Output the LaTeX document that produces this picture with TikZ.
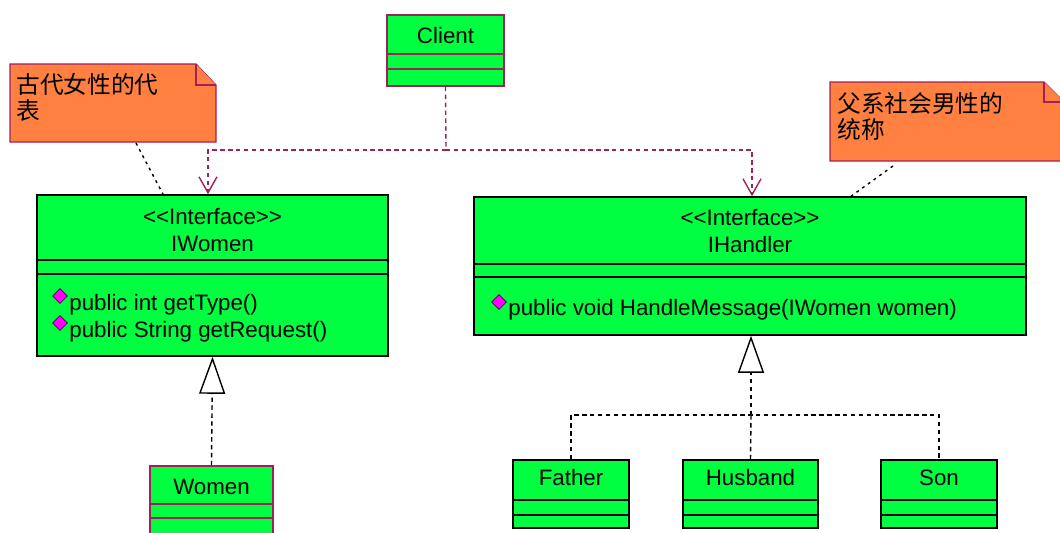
\documentclass[tikz,border=0pt]{standalone}
\usepackage{fontspec}
\setmainfont{Liberation Sans}
\newfontfamily\cjk{Noto Sans CJK SC}
\usetikzlibrary{arrows.meta,positioning,fit}
\definecolor{umlgreen}{RGB}{0,255,64}
\definecolor{umlnote}{RGB}{255,128,64}
\definecolor{umlred}{RGB}{160,32,90}
\definecolor{gemfill}{RGB}{255,0,255}

\begin{document}
\begin{tikzpicture}[
  x=0.02cm, y=-0.02cm,
  every node/.style={font=\fontsize{12.7}{15.3}\selectfont},
  cls/.style={draw=black, fill=umlgreen, line width=0.9pt, inner sep=0pt},
  clsred/.style={cls, draw=umlred},
  sep/.style={line width=0.9pt},
  note/.style={fill=umlnote, draw=umlred, line width=0.7pt},
  notetext/.style={font=\cjk\fontsize{13.5}{14.8}\selectfont, align=left,
    anchor=west, inner sep=0pt},
  dep/.style={umlred, line width=0.8pt, dash pattern=on 2.5pt off 2pt},
  real/.style={black, line width=0.8pt, dash pattern=on 2.5pt off 2pt},
  link/.style={black, line width=0.8pt, dash pattern=on 1.6pt off 2.4pt},
  open/.style={-{Straight Barb[length=3.2mm, width=3.6mm]}},
  hollow/.style={-{Triangle[open, length=7.4mm, width=5.2mm, fill=white]}},
  meth/.style={anchor=west, inner sep=0pt},
  gem/.style={rectangle, rotate=45, fill=gemfill, draw=violet!60!black,
    line width=0.4pt, minimum size=6pt, inner sep=0pt}
]
\clip (0,0) rectangle (1060,532);

% Notes
\draw[note] (10,64) -- (196,64) -- (216,85) -- (216,142) -- (10,142) -- cycle;
\draw[note] (196,64) -- (196,85) -- (216,85);
\node[notetext] (note1) at (16,97) {古代女性的代\\表};
\coordinate (n1tail) at (136,143);

\draw[note] (830,82) -- (1044,82) -- (1064,102) -- (1064,161) -- (830,161) -- cycle;
\draw[note] (1044,82) -- (1044,102) -- (1064,102);
\node[notetext] (note2) at (837,116) {父系社会男性的\\统称};
\coordinate (n2tail) at (893,166);

% Client
\node[clsred, fit={(387,15) (504,86)}] (client) {};
\draw[sep, umlred] (client.west |- 0,54) -- (client.east |- 0,54);
\draw[sep, umlred] (client.west |- 0,69) -- (client.east |- 0,69);
\node (clientname) at (445.5,36) {Client};

% IWomen
\node[cls, fit={(37,195) (388,356)}] (iwomen) {};
\draw[sep] (iwomen.west |- 0,260) -- (iwomen.east |- 0,260);
\draw[sep] (iwomen.west |- 0,274) -- (iwomen.east |- 0,274);
\node[align=center] (iwomenname) at (212.5,230) {{<}{<}Interface{>}{>}\\IWomen};
\node[gem] (g1) at (60,296) {};
\node[meth] (m1) at (69,305) {public int getType()};
\node[gem] (g2) at (60,323) {};
\node[meth] (m2) at (69,332) {public String getRequest()};

% IHandler
\node[cls, fit={(474,197) (1026,335)}] (ihandler) {};
\draw[sep] (ihandler.west |- 0,264) -- (ihandler.east |- 0,264);
\draw[sep] (ihandler.west |- 0,277) -- (ihandler.east |- 0,277);
\node[align=center] (ihandlername) at (750,231) {{<}{<}Interface{>}{>}\\IHandler};
\node[gem] (g3) at (499,302) {};
\node[meth] (m3) at (508,310) {public void HandleMessage(IWomen women)};

% Women
\node[clsred, fit={(150,466) (273,545)}] (women) {};
\draw[sep, umlred] (women.west |- 0,504) -- (women.east |- 0,504);
\draw[sep, umlred] (women.west |- 0,518) -- (women.east |- 0,518);
\node (womenname) at (211.5,487) {Women};

% Handlers
\node[cls, fit={(513,460) (629,528)}] (father) {};
\node[cls, fit={(683,460) (818,528)}] (husband) {};
\node[cls, fit={(881,460) (997,528)}] (son) {};
\foreach \c in {father,husband,son} {
  \draw[sep] (\c.west |- 0,500) -- (\c.east |- 0,500);
  \draw[sep] (\c.west |- 0,515) -- (\c.east |- 0,515);
}
\node (fathername) at (571,478) {Father};
\node (husbandname) at (750.5,478) {Husband};
\node (sonname) at (939,478) {Son};

% Client dependencies
\coordinate (cjoin) at (446,150);
\draw[dep] (client.south) -- (cjoin);
\draw[dep, open] (cjoin) -| (208,0 |- iwomen.north);
\draw[dep, open] (cjoin) -| (752,0 |- ihandler.north);

% Note links
\draw[link] (n1tail) -- (163,0 |- iwomen.north);
\draw[link] (n2tail) -- (851,0 |- ihandler.north);

% Realizations
\draw[real, hollow] (women.north) -- (iwomen.south);
\coordinate (hjoin) at (751,415);
\draw[real] (father.north) |- (hjoin) -| (son.north);
\draw[real] (husband.north) -- (hjoin);
\draw[real, hollow] (hjoin) -- (751,0 |- ihandler.south);
\end{tikzpicture}
\end{document}
